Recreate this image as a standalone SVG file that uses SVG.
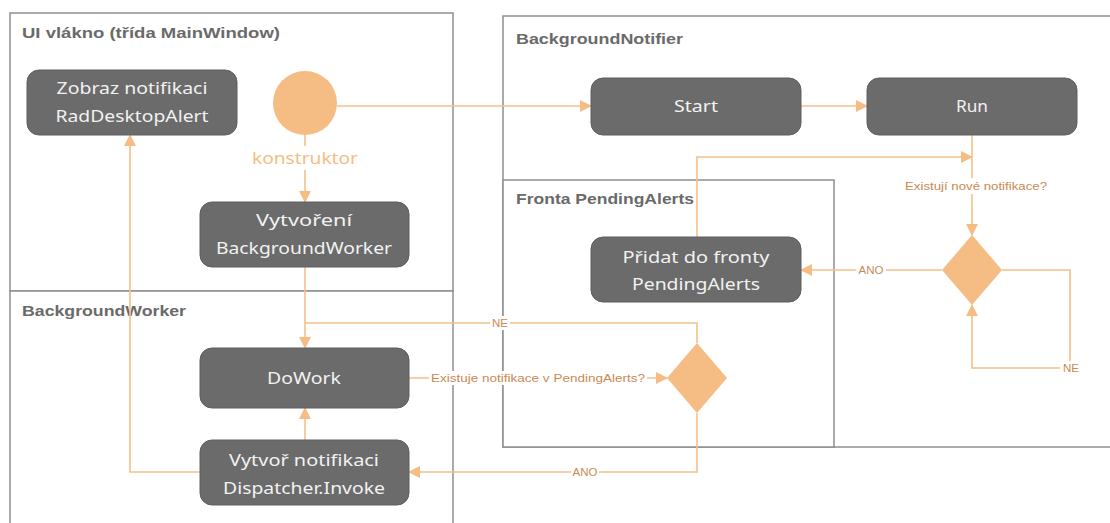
<svg xmlns="http://www.w3.org/2000/svg" width="1110" height="523" viewBox="0 0 1110 523">
<style>
.frame{fill:#fff;stroke:#8f8f8f;stroke-width:1.5}
.ftitle{font-family:"Liberation Sans",Arial,sans-serif;font-weight:bold;font-size:15px;fill:#6a6a6a}
.box{fill:#6b6b6b;stroke:#5e5e5e;stroke-width:1}
.ntext{font-family:"Noto Sans","Liberation Sans",sans-serif;font-size:17px;fill:#f2f2f2;text-anchor:middle}
.line{fill:none;stroke:#f5c08a;stroke-width:1.6}
.lbl{font-family:"Liberation Sans",Arial,sans-serif;font-size:11.5px;fill:#c98a52;text-anchor:middle}
.lblbg{fill:#fff}
.dec{fill:#f5bd84}
</style>
<defs>
<marker id="arr" markerUnits="userSpaceOnUse" markerWidth="12" markerHeight="12" viewBox="0 0 12 12" refX="11" refY="6" orient="auto">
<path d="M0,0 L12,6 L0,12 Z" fill="#f5bd84"/>
</marker>
</defs>
<rect width="1110" height="523" fill="#fff"/>
<g id="frames">
<rect class="frame" x="10" y="13" width="443" height="278"/>
<rect class="frame" x="10" y="291" width="443" height="240"/>
<rect class="frame" x="503" y="16" width="610" height="431"/>
<rect class="frame" x="503" y="180" width="331" height="267"/>
<text class="ftitle" x="22" y="38" textLength="258" lengthAdjust="spacingAndGlyphs">UI vlákno (třída MainWindow)</text>
<text class="ftitle" x="22" y="316" textLength="164" lengthAdjust="spacingAndGlyphs">BackgroundWorker</text>
<text class="ftitle" x="516" y="44" textLength="167" lengthAdjust="spacingAndGlyphs">BackgroundNotifier</text>
<text class="ftitle" x="516" y="204" textLength="178" lengthAdjust="spacingAndGlyphs">Fronta PendingAlerts</text>
</g>
<g id="connectors">
<path class="line" d="M337,106 H591" marker-end="url(#arr)"/>
<path class="line" d="M801,106 H867" marker-end="url(#arr)"/>
<path class="line" d="M305,135 V202" marker-end="url(#arr)"/>
<rect class="lblbg" x="250" y="146" width="110" height="24"/>
<text x="305" y="164" font-family="Noto Sans,Liberation Sans,sans-serif" font-size="17" fill="#f5bd84" text-anchor="middle" textLength="106" lengthAdjust="spacingAndGlyphs">konstruktor</text>
<path class="line" d="M305,267 V348" marker-end="url(#arr)"/>
<path class="line" d="M697,343 V323 H305"/>
<rect class="lblbg" x="490" y="316" width="20" height="14"/>
<text class="lbl" x="500" y="327">NE</text>
<path class="line" d="M409,378 H667" marker-end="url(#arr)"/>
<rect class="lblbg" x="429" y="371" width="218" height="14"/>
<text class="lbl" x="538" y="382" textLength="214" lengthAdjust="spacingAndGlyphs">Existuje notifikace v PendingAlerts?</text>
<path class="line" d="M697,413 V472 H409" marker-end="url(#arr)"/>
<rect class="lblbg" x="571" y="465" width="28" height="14"/>
<text class="lbl" x="585" y="476">ANO</text>
<path class="line" d="M305,440 V408" marker-end="url(#arr)"/>
<path class="line" d="M200,472 H130 V135" marker-end="url(#arr)"/>
<path class="line" d="M972,135 V235" marker-end="url(#arr)"/>
<rect class="lblbg" x="902" y="178" width="148" height="16"/>
<text class="lbl" x="976" y="190" textLength="142" lengthAdjust="spacingAndGlyphs">Existují nové notifikace?</text>
<path class="line" d="M697,237 V157 H972" marker-end="url(#arr)"/>
<path class="line" d="M942,270 H801" marker-end="url(#arr)"/>
<rect class="lblbg" x="856" y="263" width="30" height="14"/>
<text class="lbl" x="871" y="274">ANO</text>
<path class="line" d="M1002,270 H1070 V368 H972 V305" marker-end="url(#arr)"/>
<rect class="lblbg" x="1060" y="361" width="22" height="14"/>
<text class="lbl" x="1071" y="372">NE</text>
</g>
<g id="start"><circle cx="305" cy="103" r="32" class="dec"/></g>
<g id="zobraz"><rect class="box" x="27" y="70" width="210" height="65" rx="12"/>
<text class="ntext" x="132" y="94" textLength="151" lengthAdjust="spacingAndGlyphs">Zobraz notifikaci</text>
<text class="ntext" x="132" y="122" textLength="153" lengthAdjust="spacingAndGlyphs">RadDesktopAlert</text></g>
<g id="vytvoreni"><rect class="box" x="200" y="202" width="209" height="65" rx="12"/>
<text class="ntext" x="304" y="226" textLength="96" lengthAdjust="spacingAndGlyphs">Vytvoření</text>
<text class="ntext" x="304" y="254" textLength="176" lengthAdjust="spacingAndGlyphs">BackgroundWorker</text></g>
<g id="dowork"><rect class="box" x="200" y="348" width="209" height="60" rx="12"/>
<text class="ntext" x="304" y="384" textLength="74" lengthAdjust="spacingAndGlyphs">DoWork</text></g>
<g id="vytvor"><rect class="box" x="200" y="440" width="209" height="65" rx="12"/>
<text class="ntext" x="304" y="466" textLength="150" lengthAdjust="spacingAndGlyphs">Vytvoř notifikaci</text>
<text class="ntext" x="304" y="494" textLength="162" lengthAdjust="spacingAndGlyphs">Dispatcher.Invoke</text></g>
<g id="startnode"><rect class="box" x="591" y="78" width="210" height="57" rx="12"/>
<text class="ntext" x="696" y="112" textLength="44" lengthAdjust="spacingAndGlyphs">Start</text></g>
<g id="run"><rect class="box" x="867" y="78" width="210" height="57" rx="12"/>
<text class="ntext" x="972" y="112" textLength="32" lengthAdjust="spacingAndGlyphs">Run</text></g>
<g id="pridat"><rect class="box" x="591" y="237" width="210" height="65" rx="12"/>
<text class="ntext" x="696" y="263" textLength="147" lengthAdjust="spacingAndGlyphs">Přidat do fronty</text>
<text class="ntext" x="696" y="290" textLength="128" lengthAdjust="spacingAndGlyphs">PendingAlerts</text></g>
<g id="decision1"><path class="dec" d="M972,235 L1002,270 L972,305 L942,270 Z"/></g>
<g id="decision2"><path class="dec" d="M697,343 L727,378 L697,413 L667,378 Z"/></g>
</svg>
